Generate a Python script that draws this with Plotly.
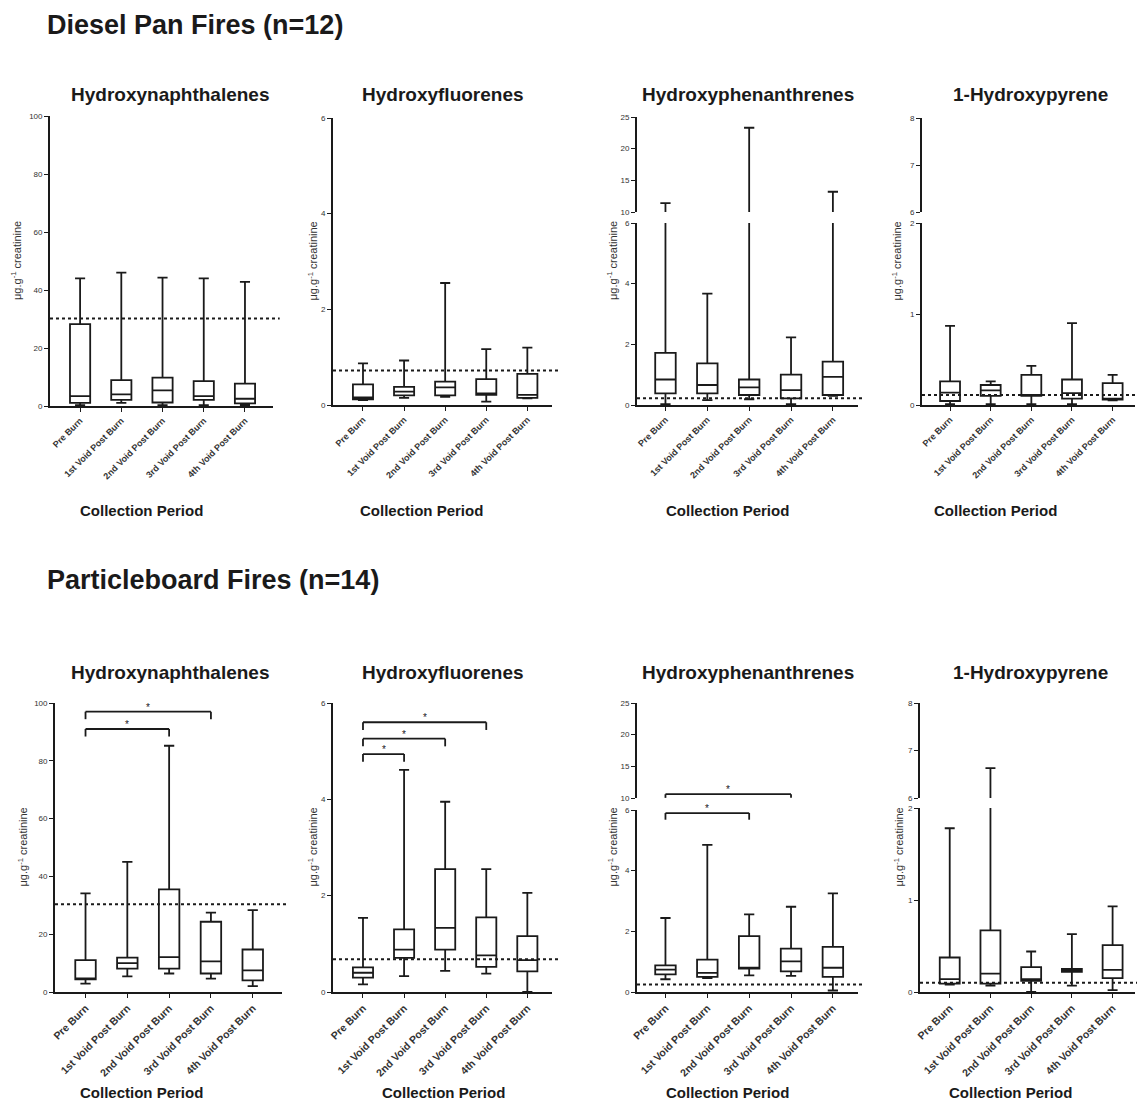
import plotly.graph_objects as go

W, H = 1137, 1103

CATEGORIES = ["Pre Burn", "1st Void Post Burn", "2nd Void Post Burn",
              "3rd Void Post Burn", "4th Void Post Burn"]

# ---------------- Diesel Pan Fires (n=12) ----------------
diesel_naph_lo = [0.3, 1.1, 0.3, 0.3, 0.3]
diesel_naph_q1 = [1.1, 2.1, 1.2, 2.1, 0.9]
diesel_naph_med = [3.4, 4.0, 5.4, 3.4, 2.5]
diesel_naph_q3 = [28.2, 8.9, 9.8, 8.6, 7.7]
diesel_naph_hi = [44.0, 46.0, 44.3, 44.0, 42.8]

diesel_fluor_lo = [0.10, 0.15, 0.17, 0.07, 0.14]
diesel_fluor_q1 = [0.12, 0.20, 0.20, 0.21, 0.15]
diesel_fluor_med = [0.16, 0.28, 0.37, 0.24, 0.21]
diesel_fluor_q3 = [0.43, 0.38, 0.49, 0.54, 0.65]
diesel_fluor_hi = [0.87, 0.93, 2.55, 1.17, 1.20]

diesel_phen_lo = [0.03, 0.16, 0.19, 0.03, 0.30]
diesel_phen_q1 = [0.38, 0.38, 0.33, 0.22, 0.33]
diesel_phen_med = [0.84, 0.66, 0.58, 0.49, 0.93]
diesel_phen_q3 = [1.72, 1.37, 0.84, 1.00, 1.43]
diesel_phen_hi = [11.4, 3.67, 23.3, 2.23, 13.2]

diesel_pyr_lo = [0.01, 0.01, 0.01, 0.01, 0.05]
diesel_pyr_q1 = [0.044, 0.10, 0.10, 0.07, 0.06]
diesel_pyr_med = [0.135, 0.16, 0.11, 0.13, 0.07]
diesel_pyr_q3 = [0.26, 0.22, 0.33, 0.28, 0.24]
diesel_pyr_hi = [0.87, 0.26, 0.43, 0.90, 0.33]

diesel_ref = [30.2, 0.72, 0.22, 0.11]

# ---------------- Particleboard Fires (n=14) ----------------
particle_naph_lo = [2.9, 5.4, 6.4, 4.6, 2.0]
particle_naph_q1 = [4.4, 8.1, 8.1, 6.4, 4.0]
particle_naph_med = [4.6, 10.0, 12.1, 10.6, 7.5]
particle_naph_q3 = [11.0, 11.9, 35.5, 24.3, 14.7]
particle_naph_hi = [34.1, 45.0, 85.2, 27.5, 28.3]

particle_fluor_lo = [0.16, 0.33, 0.44, 0.38, 0.0]
particle_fluor_q1 = [0.30, 0.71, 0.88, 0.52, 0.43]
particle_fluor_med = [0.40, 0.88, 1.33, 0.76, 0.66]
particle_fluor_q3 = [0.51, 1.30, 2.55, 1.55, 1.16]
particle_fluor_hi = [1.54, 4.61, 3.95, 2.55, 2.06]

particle_phen_lo = [0.42, 0.46, 0.55, 0.53, 0.05]
particle_phen_q1 = [0.58, 0.50, 0.77, 0.68, 0.50]
particle_phen_med = [0.74, 0.63, 0.79, 1.01, 0.80]
particle_phen_q3 = [0.88, 1.07, 1.84, 1.43, 1.49]
particle_phen_hi = [2.44, 4.85, 2.56, 2.81, 3.25]

particle_pyr_lo = [0.08, 0.07, 0.0, 0.07, 0.02]
particle_pyr_q1 = [0.09, 0.09, 0.12, 0.22, 0.15]
particle_pyr_med = [0.14, 0.20, 0.14, 0.24, 0.24]
particle_pyr_q3 = [0.375, 0.67, 0.27, 0.25, 0.51]
particle_pyr_hi = [1.78, 6.63, 0.44, 0.63, 0.93]

particle_ref = [30.4, 0.68, 0.25, 0.10]

# significance brackets: (from index, to index, level, drop, segment)
particle_naph_sig = [(0, 2, 91.0, 2.6, 0), (0, 3, 97.0, 2.6, 0)]
particle_fluor_sig = [(0, 1, 4.94, 0.16, 0), (0, 2, 5.26, 0.16, 0), (0, 3, 5.60, 0.16, 0)]
particle_phen_sig = [(0, 2, 5.90, 0.22, 0), (0, 3, 10.6, 0.58, 1)]

ANALYTES = ["Hydroxynaphthalenes", "Hydroxyfluorenes", "Hydroxyphenanthrenes", "1-Hydroxypyrene"]
ROW_TITLES = ["Diesel Pan Fires (n=12)", "Particleboard Fires (n=14)"]

FONT = "Liberation Sans, Arial, sans-serif"
INK = "#1a1a1a"


def fx(px):
    return px / W


def fy(py):
    return 1 - py / H


fig = go.Figure()
layout = {}
shapes = []
annotations = []
counters = {"x": 0, "y": 0}


def aid(kind, n):
    return kind if n == 1 else f"{kind}{n}"


def lkey(kind, n):
    return f"{kind}axis" if n == 1 else f"{kind}axis{n}"


def add_panel(stats, xdom, xrange, segs, ref, ytitle_x, title_xy, xtitle_xy, xtick_size, sig=None):
    lo, q1, med, q3, hi = stats
    counters["x"] += 1
    xn = counters["x"]
    xid = aid("x", xn)
    yids = []
    for si, (ydom, yrange, dtick) in enumerate(segs):
        counters["y"] += 1
        yn = counters["y"]
        yid = aid("y", yn)
        yids.append(yid)
        layout[lkey("y", yn)] = dict(
            domain=[fy(ydom[1]), fy(ydom[0])], range=yrange, anchor=xid,
            showline=True, linecolor=INK, linewidth=1.8, ticks="outside",
            ticklen=4, tickwidth=1.3, tickcolor=INK, dtick=dtick, tick0=yrange[0],
            showgrid=False, zeroline=False, automargin=False,
            tickfont=dict(family=FONT, size=8, color="#333333"),
        )
        fig.add_trace(go.Box(
            x=CATEGORIES, q1=q1, median=med, q3=q3, lowerfence=lo, upperfence=hi,
            xaxis=xid, yaxis=yid, fillcolor="white",
            line=dict(color=INK, width=1.8), whiskerwidth=0.5,
            showlegend=False, hoverinfo="skip",
        ))
    layout[lkey("x", xn)] = dict(
        domain=[fx(xdom[0]), fx(xdom[1])], range=xrange, anchor=yids[0],
        type="category", categoryorder="array", categoryarray=CATEGORIES,
        showline=True, linecolor=INK, linewidth=1.8, ticks="outside",
        ticklen=4, tickwidth=1.3, tickcolor=INK, tickangle=-45,
        showgrid=False, zeroline=False, automargin=False,
        tickfont=dict(family=FONT, size=xtick_size, color="#333333", weight="bold"),
    )
    # reference (dotted) line on the lowest segment
    shapes.append(dict(type="line", xref=f"{xid} domain", x0=0, x1=1.03,
                       yref=yids[0], y0=ref, y1=ref,
                       line=dict(color=INK, width=2, dash="dot")))
    # significance brackets
    for (i0, i1, lev, drop, seg) in (sig or []):
        yid = yids[seg]
        for (a0, a1, b0, b1) in [(i0, i1, lev, lev), (i0, i0, lev - drop, lev), (i1, i1, lev - drop, lev)]:
            shapes.append(dict(type="line", xref=xid, yref=yid, x0=a0, x1=a1, y0=b0, y1=b1,
                               line=dict(color=INK, width=1.8)))
        annotations.append(dict(x=(i0 + i1) / 2, y=lev, xref=xid, yref=yid, text="*",
                                showarrow=False, yanchor="bottom", yshift=-3,
                                font=dict(family=FONT, size=10, color=INK)))
    # y-axis title spanning all segments
    top = min(s[0][0] for s in segs)
    bot = max(s[0][1] for s in segs)
    annotations.append(dict(x=fx(ytitle_x), y=fy((top + bot) / 2), xref="paper", yref="paper",
                            xanchor="center", yanchor="middle",
                            text="μg.g<sup>-1</sup> creatinine", textangle=-90, showarrow=False,
                            font=dict(family=FONT, size=11, color="#333333")))
    # panel title
    annotations.append(dict(x=fx(title_xy[0]), y=fy(title_xy[1]), xref="paper", yref="paper",
                            xanchor="center", yanchor="middle",
                            text=f"<b>{title_xy[2]}</b>", showarrow=False,
                            font=dict(family=FONT, size=19, color=INK)))
    # x-axis title
    annotations.append(dict(x=fx(xtitle_xy[0]), y=fy(xtitle_xy[1]), xref="paper", yref="paper",
                            xanchor="center", yanchor="middle",
                            text="<b>Collection Period</b>", showarrow=False,
                            font=dict(family=FONT, size=15, color=INK)))


# ---------------- top row ----------------
add_panel((diesel_naph_lo, diesel_naph_q1, diesel_naph_med, diesel_naph_q3, diesel_naph_hi),
          (50, 273), [-0.73, 4.68], [((116, 406), [0, 100], 20)], diesel_ref[0],
          16, (170, 95, ANALYTES[0]), (141, 510), 9)
add_panel((diesel_fluor_lo, diesel_fluor_q1, diesel_fluor_med, diesel_fluor_q3, diesel_fluor_hi),
          (333, 552), [-0.73, 4.6], [((118, 405), [0, 6], 2)], diesel_ref[1],
          312, (443, 95, ANALYTES[1]), (421, 510), 9)
add_panel((diesel_phen_lo, diesel_phen_q1, diesel_phen_med, diesel_phen_q3, diesel_phen_hi),
          (637, 858), [-0.68, 4.6], [((223, 405), [0, 6], 2), ((117, 212), [10, 25], 5)],
          diesel_ref[2], 612, (748, 95, ANALYTES[2]), (727, 510), 9)
add_panel((diesel_pyr_lo, diesel_pyr_q1, diesel_pyr_med, diesel_pyr_q3, diesel_pyr_hi),
          (922, 1135), [-0.69, 4.55], [((223, 405), [0, 2], 1), ((118, 212), [6, 8], 1)],
          diesel_ref[3], 896, (1030, 95, ANALYTES[3]), (995, 510), 9)

# ---------------- bottom row ----------------
add_panel((particle_naph_lo, particle_naph_q1, particle_naph_med, particle_naph_q3, particle_naph_hi),
          (55, 282), [-0.73, 4.7], [((703, 992), [0, 100], 20)], particle_ref[0],
          22, (170, 672, ANALYTES[0]), (141, 1092), 10.5, particle_naph_sig)
add_panel((particle_fluor_lo, particle_fluor_q1, particle_fluor_med, particle_fluor_q3, particle_fluor_hi),
          (333, 552), [-0.73, 4.6], [((703, 992), [0, 6], 2)], particle_ref[1],
          312, (443, 672, ANALYTES[1]), (443, 1092), 10.5, particle_fluor_sig)
add_panel((particle_phen_lo, particle_phen_q1, particle_phen_med, particle_phen_q3, particle_phen_hi),
          (637, 858), [-0.68, 4.6], [((810, 992), [0, 6], 2), ((703, 798), [10, 25], 5)],
          particle_ref[2], 612, (748, 672, ANALYTES[2]), (727, 1092), 10.5, particle_phen_sig)
add_panel((particle_pyr_lo, particle_pyr_q1, particle_pyr_med, particle_pyr_q3, particle_pyr_hi),
          (920, 1135), [-0.73, 4.55], [((808, 992), [0, 2], 1), ((703, 798), [6, 8], 1)],
          particle_ref[3], 898, (1030, 672, ANALYTES[3]), (1010, 1092), 10.5)

# row titles
for title, ty in zip(ROW_TITLES, [25, 580]):
    annotations.append(dict(x=fx(45), y=fy(ty), xref="paper", yref="paper",
                            xanchor="left", yanchor="middle",
                            text=f"<b>{title}</b>", showarrow=False,
                            font=dict(family=FONT, size=27, color=INK)))

fig.update_layout(
    template="none",
    width=W, height=H,
    margin=dict(l=0, r=0, t=0, b=0),
    paper_bgcolor="white", plot_bgcolor="white",
    boxgap=0.3,
    showlegend=False,
    shapes=shapes, annotations=annotations,
    **layout,
)

fig.write_html("out.html", config={"displayModeBar": False},
               post_script="document.body.style.margin='0';")
